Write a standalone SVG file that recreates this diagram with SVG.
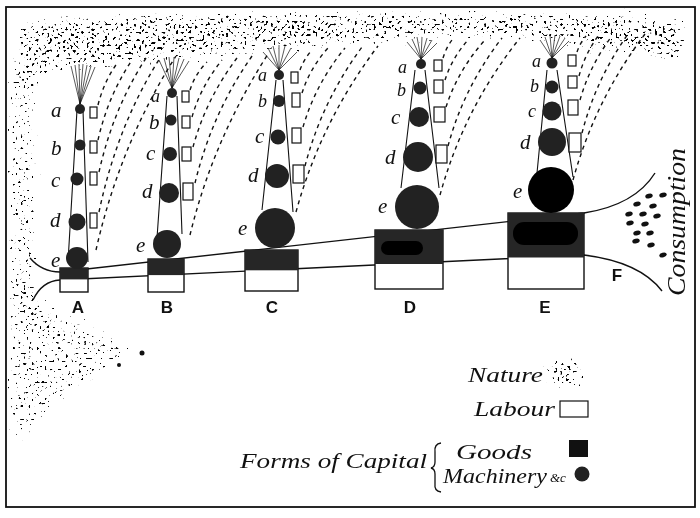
<svg xmlns="http://www.w3.org/2000/svg" width="700" height="518" viewBox="0 0 700 518">
<defs>
<style>
.lbl{font-family:"Liberation Serif","DejaVu Serif",serif;font-style:italic;font-size:21px;fill:#111}
.sm{font-size:18px}
.cap{font-family:"Liberation Sans","DejaVu Sans",sans-serif;font-weight:bold;font-size:17px;fill:#111;text-anchor:middle}
.leg{font-family:"Liberation Serif","DejaVu Serif",serif;font-style:italic;font-size:21px;fill:#111}
.tower{stroke:#111;stroke-width:1.1;fill:none}
.ray{stroke:#111;stroke-width:0.7;fill:none}
.mach{fill:#222}
.lab{fill:#fff;stroke:#111;stroke-width:1.2}
.box{fill:#fff;stroke:#111;stroke-width:1.4}
.goods{fill:#262626}
.blob{fill:#000}
.dash{stroke:#111;stroke-width:1.4;fill:none;stroke-dasharray:4 4}
.flow{stroke:#111;stroke-width:1.4;fill:none}
.cons{fill:#111}
</style>
<filter id="stipple" filterUnits="userSpaceOnUse" x="0" y="0" width="700" height="518" color-interpolation-filters="sRGB">
<feGaussianBlur in="SourceAlpha" stdDeviation="9" result="d"/>
<feTurbulence type="fractalNoise" baseFrequency="0.38" numOctaves="1" seed="5" result="n"/>
<feColorMatrix in="n" type="matrix" values="0 0 0 0 0  0 0 0 0 0  0 0 0 0 0  1 0 0 0 0" result="na"/>
<feComposite in="na" in2="d" operator="arithmetic" k1="0" k2="22" k3="8" k4="-21.2"/>
</filter>
</defs>
<rect x="0" y="0" width="700" height="518" fill="#fff"/>

<g id="nature" filter="url(#stipple)">
<path d="M14 18 C100 8 300 6 420 8 C520 6 640 10 690 14 L690 62 C660 62 630 52 600 48 C560 42 520 40 480 38 C440 36 400 40 360 44 C320 48 280 48 240 52 C200 56 150 60 110 66 C80 70 50 66 40 84 L14 84 Z" fill="#000"/>
<path d="M14 72 C60 82 120 80 200 68 C300 60 380 52 440 48 C520 46 600 58 690 72 L690 40 L14 40 Z" fill="#000" opacity="0.55"/>
<rect x="4" y="60" width="36" height="245" fill="#000" opacity="0.9"/>
<polygon points="4,280 40,296 100,322 150,352 100,382 50,420 24,448 4,448" fill="#000" opacity="0.85"/>
<rect x="540" y="352" width="48" height="40" fill="#000"/>
</g>
<rect x="0" y="0" width="700" height="6" fill="#fff"/>
<rect x="0" y="508" width="700" height="10" fill="#fff"/>
<rect x="0" y="0" width="5" height="518" fill="#fff"/>
<rect x="696" y="0" width="4" height="518" fill="#fff"/>
<rect x="6" y="7" width="689" height="500" fill="none" stroke="#111" stroke-width="1.8"/>
<circle cx="142" cy="353" r="2.5" fill="#111"/>
<circle cx="119" cy="365" r="2" fill="#111"/>

<g id="connectors">
<path class="flow" d="M30 258 Q42 272 60 272 L584 213 Q635 205 655 173"/>
<path class="flow" d="M33 300 Q42 281 60 280 L584 255 Q640 262 662 291"/>
<path class="dash" d="M98 105 Q104 81 118 62"/>
<path class="dash" d="M98 140 Q108 96 132 60"/>
<path class="dash" d="M99 172 Q113 109 146 58"/>
<path class="dash" d="M99 212 Q117 126 160 58"/>
<path class="dash" d="M96 250 Q120 144 176 56"/>
<path class="dash" d="M190 90 Q195 74 207 62"/>
<path class="dash" d="M192 117 Q201 86 222 60"/>
<path class="dash" d="M193 147 Q206 99 237 58"/>
<path class="dash" d="M195 183 Q212 113 252 56"/>
<path class="dash" d="M190 235 Q213 140 268 54"/>
<path class="dash" d="M300 70 Q304 59 312 50"/>
<path class="dash" d="M302 93 Q310 68 328 48"/>
<path class="dash" d="M303 127 Q316 83 345 48"/>
<path class="dash" d="M305 166 Q322 101 362 47"/>
<path class="dash" d="M296 212 Q321 121 378 46"/>
<path class="dash" d="M443 58 Q446 48 452 40"/>
<path class="dash" d="M445 80 Q452 58 468 40"/>
<path class="dash" d="M446 107 Q458 70 485 40"/>
<path class="dash" d="M448 146 Q464 87 502 38"/>
<path class="dash" d="M440 195 Q464 108 520 38"/>
<path class="dash" d="M577 52 Q580 43 586 36"/>
<path class="dash" d="M579 76 Q585 54 598 36"/>
<path class="dash" d="M580 100 Q590 65 612 36"/>
<path class="dash" d="M582 133 Q596 79 628 34"/>
<path class="dash" d="M573 180 Q595 100 645 34"/>
</g>

<g id="col-A">
<path class="ray" d="M71 66 L80 104 M75 65 L80 104 M79 64 L80 104 M83 64 L80 104 M87 65 L80 104 M91 66 L80 104 M95 67 L80 104"/>
<path class="tower" d="M77 110 L68 262 M83 110 L88 262"/>
<rect class="box" x="60" y="268" width="28" height="24"/>
<rect class="goods" x="60" y="268" width="28" height="11.4"/>
<circle class="mach" cx="80" cy="109" r="5"/>
<circle class="mach" cx="80" cy="145" r="5.5"/>
<circle class="mach" cx="77" cy="179" r="6.5"/>
<circle class="mach" cx="77" cy="222" r="8.5"/>
<circle class="mach" cx="77" cy="258" r="11"/>
<rect class="lab" x="90" y="107" width="7" height="11"/>
<rect class="lab" x="90" y="141" width="7" height="12"/>
<rect class="lab" x="90" y="172" width="7" height="13"/>
<rect class="lab" x="90" y="213" width="7" height="15"/>
<text class="lbl" x="51" y="117">a</text>
<text class="lbl" x="51" y="155">b</text>
<text class="lbl" x="51" y="187">c</text>
<text class="lbl" x="50" y="227">d</text>
<text class="lbl" x="51" y="267">e</text>
<text class="cap" x="78" y="313">A</text>
</g>

<g id="col-B">
<path class="ray" d="M159 60 L172 88 M164 58 L172 88 M169 57 L172 88 M174 57 L172 88 M179 58 L172 88 M184 59 L172 88 M189 61 L172 88"/>
<path class="tower" d="M167 96 L157 238 M177 96 L182 234"/>
<rect class="box" x="148" y="259" width="36" height="33"/>
<rect class="goods" x="148" y="259" width="36" height="16.1"/>
<circle class="mach" cx="172" cy="93" r="5"/>
<circle class="mach" cx="171" cy="120" r="5.5"/>
<circle class="mach" cx="170" cy="154" r="7"/>
<circle class="mach" cx="169" cy="193" r="10"/>
<circle class="mach" cx="167" cy="244" r="14"/>
<rect class="lab" x="182" y="91" width="7" height="11"/>
<rect class="lab" x="182" y="116" width="8" height="12"/>
<rect class="lab" x="182" y="147" width="9" height="14"/>
<rect class="lab" x="183" y="183" width="10" height="17"/>
<text class="lbl sm" x="151" y="102">a</text>
<text class="lbl" x="149" y="129">b</text>
<text class="lbl" x="146" y="160">c</text>
<text class="lbl" x="142" y="198">d</text>
<text class="lbl" x="136" y="252">e</text>
<text class="cap" x="167" y="313">B</text>
</g>

<g id="col-C">
<path class="ray" d="M263 52 L279 70 M268 48 L279 70 M273 46 L279 70 M279 45 L279 70 M285 46 L279 70 M291 48 L279 70 M297 52 L279 70"/>
<path class="tower" d="M276 80 L262 210 M283 80 L293 212"/>
<rect class="box" x="245" y="250" width="53" height="41"/>
<rect class="goods" x="245" y="250" width="53" height="20.3"/>
<circle class="mach" cx="279" cy="75" r="5"/>
<circle class="mach" cx="279" cy="101" r="6"/>
<circle class="mach" cx="278" cy="137" r="7.5"/>
<circle class="mach" cx="277" cy="176" r="12"/>
<circle class="mach" cx="275" cy="228" r="20"/>
<rect class="lab" x="291" y="72" width="7" height="11"/>
<rect class="lab" x="292" y="93" width="8" height="14"/>
<rect class="lab" x="292" y="128" width="9" height="15"/>
<rect class="lab" x="293" y="165" width="11" height="18"/>
<text class="lbl sm" x="258" y="81">a</text>
<text class="lbl sm" x="258" y="107">b</text>
<text class="lbl" x="255" y="143">c</text>
<text class="lbl" x="248" y="182">d</text>
<text class="lbl" x="238" y="235">e</text>
<text class="cap" x="272" y="313">C</text>
</g>

<g id="col-D">
<path class="ray" d="M407 42 L421 59 M412 39 L421 59 M417 37 L421 59 M422 37 L421 59 M427 38 L421 59 M432 40 L421 59 M437 43 L421 59"/>
<path class="tower" d="M415 70 L401 188 M425 70 L439 188"/>
<rect class="box" x="375" y="230" width="68" height="59"/>
<rect class="goods" x="375" y="230" width="68" height="34"/>
<rect class="blob" x="381" y="241" width="42" height="14" rx="7"/>
<circle class="mach" cx="421" cy="64" r="5"/>
<circle class="mach" cx="420" cy="88" r="6.5"/>
<circle class="mach" cx="419" cy="117" r="10"/>
<circle class="mach" cx="418" cy="157" r="15"/>
<circle class="mach" cx="417" cy="207" r="22"/>
<rect class="lab" x="434" y="60" width="8" height="11"/>
<rect class="lab" x="434" y="80" width="9" height="13"/>
<rect class="lab" x="434" y="107" width="11" height="15"/>
<rect class="lab" x="436" y="145" width="11" height="18"/>
<text class="lbl sm" x="398" y="73">a</text>
<text class="lbl sm" x="397" y="96">b</text>
<text class="lbl" x="391" y="124">c</text>
<text class="lbl" x="385" y="164">d</text>
<text class="lbl" x="378" y="213">e</text>
<text class="cap" x="410" y="313">D</text>
</g>

<g id="col-E">
<path class="ray" d="M540 40 L552 58 M545 37 L552 58 M550 35 L552 58 M555 35 L552 58 M560 36 L552 58 M565 38 L552 58 M569 41 L552 58"/>
<path class="tower" d="M547 70 L537 173 M557 70 L573 177"/>
<rect class="box" x="508" y="213" width="76" height="76"/>
<rect class="goods" x="508" y="213" width="76" height="44.5"/>
<rect class="blob" x="513" y="222" width="65" height="23" rx="11"/>
<circle class="mach" cx="552" cy="63" r="5.5"/>
<circle class="mach" cx="552" cy="87" r="6.5"/>
<circle class="mach" cx="552" cy="111" r="9.5"/>
<circle class="mach" cx="552" cy="142" r="14"/>
<circle class="blob" cx="551" cy="190" r="23"/>
<rect class="lab" x="568" y="55" width="8" height="11"/>
<rect class="lab" x="568" y="76" width="9" height="12"/>
<rect class="lab" x="568" y="100" width="10" height="15"/>
<rect class="lab" x="569" y="133" width="12" height="19"/>
<text class="lbl sm" x="532" y="67">a</text>
<text class="lbl sm" x="530" y="92">b</text>
<text class="lbl sm" x="528" y="117">c</text>
<text class="lbl" x="520" y="149">d</text>
<text class="lbl" x="513" y="198">e</text>
<text class="cap" x="545" y="313">E</text>
</g>

<g id="consumption">
<text class="cap" x="617" y="281">F</text>
<g class="cons">
<ellipse cx="649" cy="196" rx="3.8" ry="2.3" transform="rotate(-15 649 196)"/>
<ellipse cx="663" cy="195" rx="3.8" ry="2.3" transform="rotate(-15 663 195)"/>
<ellipse cx="637" cy="204" rx="3.8" ry="2.3" transform="rotate(-15 637 204)"/>
<ellipse cx="653" cy="206" rx="3.8" ry="2.3" transform="rotate(-15 653 206)"/>
<ellipse cx="629" cy="214" rx="3.8" ry="2.3" transform="rotate(-15 629 214)"/>
<ellipse cx="643" cy="214" rx="3.8" ry="2.3" transform="rotate(-15 643 214)"/>
<ellipse cx="657" cy="216" rx="3.8" ry="2.3" transform="rotate(-15 657 216)"/>
<ellipse cx="630" cy="223" rx="3.8" ry="2.3" transform="rotate(-15 630 223)"/>
<ellipse cx="645" cy="224" rx="3.8" ry="2.3" transform="rotate(-15 645 224)"/>
<ellipse cx="637" cy="233" rx="3.8" ry="2.3" transform="rotate(-15 637 233)"/>
<ellipse cx="650" cy="233" rx="3.8" ry="2.3" transform="rotate(-15 650 233)"/>
<ellipse cx="636" cy="241" rx="3.8" ry="2.3" transform="rotate(-15 636 241)"/>
<ellipse cx="651" cy="245" rx="3.8" ry="2.3" transform="rotate(-15 651 245)"/>
<ellipse cx="663" cy="255" rx="3.8" ry="2.3" transform="rotate(-15 663 255)"/>
</g>
<text class="leg" transform="translate(685 222) rotate(-90)" text-anchor="middle" style="font-size:25px" textLength="148" lengthAdjust="spacingAndGlyphs">Consumption</text>
</g>

<g id="legend">
<text class="leg" x="468" y="382" textLength="75" lengthAdjust="spacingAndGlyphs">Nature</text>
<text class="leg" x="474" y="416" textLength="81" lengthAdjust="spacingAndGlyphs">Labour</text>
<rect class="lab" x="560" y="401" width="28" height="16"/>
<text class="leg" x="240" y="468" textLength="187" lengthAdjust="spacingAndGlyphs">Forms of Capital</text>
<path d="M441 443 Q434 444 435 452 L435 462 Q435 467 431 468 Q435 469 435 474 L435 484 Q434 491 441 492" fill="none" stroke="#111" stroke-width="1.3"/>
<text class="leg" x="456" y="459" style="font-size:20px" textLength="76" lengthAdjust="spacingAndGlyphs">Goods</text>
<rect x="569" y="440" width="19" height="17" fill="#111"/>
<text class="leg" x="443" y="483" style="font-size:20px" textLength="104" lengthAdjust="spacingAndGlyphs">Machinery</text>
<text class="leg" x="550" y="482" style="font-size:13px">&amp;c</text>
<circle class="mach" cx="582" cy="474" r="7.5"/>
</g>
</svg>
